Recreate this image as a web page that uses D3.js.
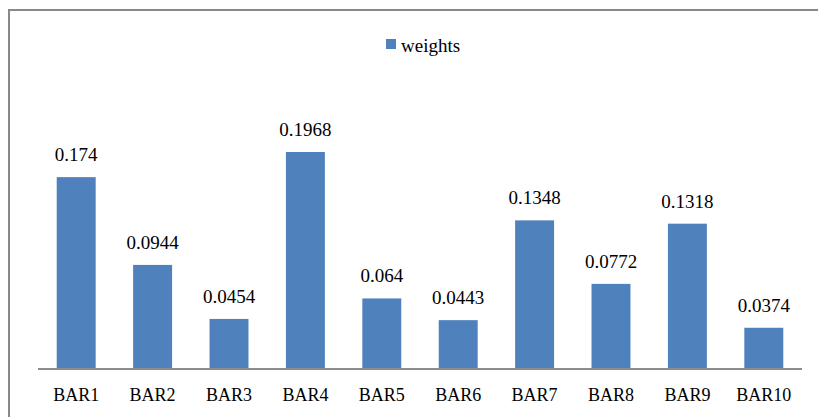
<!DOCTYPE html>
<html><head><meta charset="utf-8">
<script src="https://cdn.jsdelivr.net/npm/d3@7"></script>
<style>body{margin:0;background:#fff;}svg{display:block;}</style>
</head><body>
<script>
const categories = ["BAR1","BAR2","BAR3","BAR4","BAR5","BAR6","BAR7","BAR8","BAR9","BAR10"];
const weights = [0.174,0.0944,0.0454,0.1968,0.064,0.0443,0.1348,0.0772,0.1318,0.0374];
const seriesName = "weights";

const W = 818, H = 417;
const svg = d3.select("body").append("svg").attr("width", W).attr("height", H);
const font = "'Liberation Serif', 'Times New Roman', serif";

// outer frame (only top and left visible)
svg.append("line").attr("x1",9).attr("x2",W).attr("y1",10).attr("y2",10).attr("stroke","#888").attr("stroke-width",2);
svg.append("line").attr("x1",9).attr("x2",9).attr("y1",9).attr("y2",H).attr("stroke","#888").attr("stroke-width",2);

const x = d3.scaleBand().domain(categories).range([38, 802]).paddingInner(0.49).paddingOuter(0.245);
const y = d3.scaleLinear().domain([0, 0.25]).range([369, 93.35]);

svg.selectAll("rect.bar").data(weights).join("rect").attr("class","bar")
  .attr("x",(d,i)=>x(categories[i])).attr("width",x.bandwidth())
  .attr("y",d=>y(d)).attr("height",d=>y(0)-y(d)).attr("fill","#4f81bd");

svg.selectAll("text.val").data(weights).join("text").attr("class","val")
  .attr("x",(d,i)=>x(categories[i])+x.bandwidth()/2).attr("y",d=>y(d)-16)
  .attr("text-anchor","middle").attr("font-family",font).attr("font-size",19).attr("fill","#000")
  .text(d=>String(d));

const xAxis = d3.axisBottom(x).tickSize(0).tickPadding(0);
const gx = svg.append("g").attr("transform",`translate(0,${y(0)})`).call(xAxis);
gx.select(".domain").attr("stroke","#8c8c8c").attr("stroke-width",2).attr("d",`M38,0H802`);
gx.selectAll("text").attr("font-family",font).attr("font-size",18).attr("fill","#000").attr("dy",null).attr("y",31.5);

// legend
const lg = svg.append("g").attr("transform","translate(386,39)");
lg.append("rect").attr("width",10).attr("height",10).attr("fill","#4f81bd");
lg.append("text").attr("x",15).attr("y",12.5).attr("font-family",font).attr("font-size",19).attr("fill","#000").text(seriesName);
</script>
</body></html>
